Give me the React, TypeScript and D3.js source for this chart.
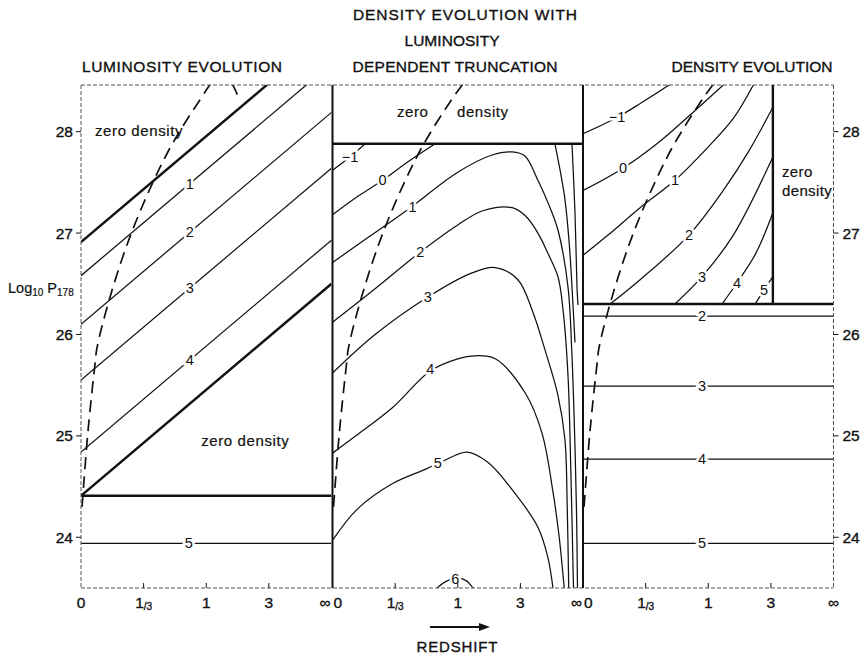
import React from "react";
import * as d3 from "d3";

// ---------- axes ----------
const redshiftTicks = [0, 1 / 3, 1, 3, Infinity];
const redshiftTickLabels = ["0", "⅓", "1", "3", "∞"];
const logPTicks = [24, 25, 26, 27, 28];
const logPDomain = [23.5, 28.46];

// x data below is compressed redshift u = z/(1+z)  (0 -> 0, 1/3 -> .25, 1 -> .5, 3 -> .75, inf -> 1)
const compress = (z: number) => (z === Infinity ? 1 : z / (1 + z));

// ---------- panel 1 : luminosity evolution ----------
const lumLevels = ["1", "2", "3", "4"];
const lumAtZ0 = [26.58, 26.1, 25.55, 24.84];
const lumAtZInf = [28.67, 28.19, 27.64, 26.93];
const lumUpperBound = [26.91, 29.0];
const lumLowerBound = [24.41, 26.5];
const lumFloor = 24.41;
const lumLevel5 = 23.94;

// ---------- panel 2 : density evolution with luminosity dependent truncation ----------
const ddtCeiling = 27.88;
const ddtM1 = [[0, 27.62], [0.07, 27.75], [0.13, 27.88]];
const ddtM1Tail = [[0.956, 27.88], [0.968, 27.2], [0.976, 26.47], [0.98, 26.29]];
const ddt0 = [[0, 27.18], [0.1, 27.36], [0.2, 27.52], [0.3, 27.7], [0.41, 27.88]];
const ddt0Tail = [[0.888, 27.88], [0.91, 27.6], [0.928, 27.33], [0.945, 26.9], [0.956, 26.47], [0.968, 25.92]];
const ddt1 = [[0, 26.71], [0.15, 26.97], [0.3, 27.23], [0.5, 27.6], [0.637, 27.77], [0.717, 27.8], [0.768, 27.76], [0.82, 27.52], [0.86, 27.3], [0.9, 27.03], [0.94, 26.47], [0.955, 25.85], [0.966, 25.06], [0.974, 24.27], [0.978, 23.5]];
const ddt2 = [[0, 26.12], [0.17, 26.45], [0.349, 26.81], [0.5, 27.08], [0.6, 27.22], [0.717, 27.25], [0.77, 27.17], [0.82, 27.0], [0.86, 26.8], [0.9, 26.57], [0.92, 26.25], [0.94, 25.6], [0.952, 24.6], [0.962, 23.5]];
const ddt3 = [[0, 25.62], [0.17, 26.0], [0.381, 26.37], [0.55, 26.6], [0.649, 26.66], [0.74, 26.54], [0.8, 26.22], [0.848, 25.85], [0.9, 25.4], [0.928, 24.96], [0.937, 24.3], [0.943, 23.5]];
const ddt4 = [[0, 24.83], [0.12, 25.05], [0.24, 25.28], [0.39, 25.64], [0.5, 25.76], [0.57, 25.79], [0.65, 25.76], [0.77, 25.42], [0.836, 25.03], [0.88, 24.45], [0.905, 24.0], [0.925, 23.5]];
const ddt5 = [[0, 23.97], [0.1, 24.28], [0.24, 24.53], [0.37, 24.67], [0.44, 24.75], [0.537, 24.84], [0.62, 24.74], [0.717, 24.47], [0.82, 24.1], [0.86, 23.8], [0.88, 23.5]];
const ddt6 = [[0.418, 23.5], [0.45, 23.56], [0.497, 23.6], [0.535, 23.57], [0.561, 23.5]];
const ddtLabels = ["−1", "0", "1", "2", "3", "4", "5", "6"];
const ddtLabelAt = [[0.07, 27.75], [0.2, 27.52], [0.32, 27.26], [0.35, 26.81], [0.38, 26.37], [0.39, 25.66], [0.42, 24.73], [0.49, 23.59]];

// ---------- panel 3 : density evolution ----------
const deCutoff = 0.758;
const deFloor = 26.3;
const deM1 = [[0, 27.98], [0.136, 28.14], [0.23, 28.28], [0.35, 28.47]];
const de0 = [[0, 27.42], [0.16, 27.64], [0.295, 27.88], [0.43, 28.17], [0.56, 28.46]];
const de1 = [[0, 26.78], [0.1, 26.98], [0.228, 27.25], [0.367, 27.52], [0.5, 27.85], [0.6, 28.13], [0.68, 28.46]];
const de2 = [[0.108, 26.3], [0.228, 26.54], [0.423, 26.98], [0.56, 27.42], [0.66, 27.8], [0.758, 28.24]];
const de3 = [[0.367, 26.3], [0.475, 26.57], [0.6, 26.98], [0.758, 27.75]];
const de4 = [[0.555, 26.3], [0.615, 26.51], [0.69, 26.8], [0.758, 27.2]];
const de5 = [[0.687, 26.3], [0.723, 26.44], [0.758, 26.57]];
const deLabels = ["−1", "0", "1", "2", "3", "4", "5"];
const deLabelAt = [[0.136, 28.14], [0.16, 27.64], [0.367, 27.52], [0.423, 26.98], [0.475, 26.57], [0.615, 26.51], [0.723, 26.44]];
const deFlatLevels = ["2", "3", "4", "5"];
const deFlatValues = [26.18, 25.49, 24.77, 23.94];

// ---------- flux limit (dashed) ----------
const fluxLimit = [[0.004, 24.3], [0.008, 24.43], [0.028, 25.05], [0.056, 25.71], [0.064, 25.87], [0.116, 26.37], [0.195, 26.96], [0.287, 27.5], [0.367, 27.89], [0.474, 28.31], [0.53, 28.5]];
const fluxLimitTurn = [[0.57, 28.54], [0.6, 28.48], [0.625, 28.36]];

const titles1 = ["LUMINOSITY EVOLUTION"];
const titles2 = ["DENSITY EVOLUTION WITH", "LUMINOSITY", "DEPENDENT TRUNCATION"];
const titles3 = ["DENSITY EVOLUTION"];

const FONT = "'Liberation Sans', Arial, Helvetica, 'DejaVu Sans', sans-serif";
const INK = "#111";

export default function App() {
  const top = 85, bottom = 588;
  const panelLefts = [81, 332.5, 583];
  const panelW = 250.5;
  const y = d3.scaleLinear().domain(logPDomain).range([bottom, top]);
  const xs = panelLefts.map((l) => d3.scaleLinear().domain([0, 1]).range([l, l + panelW]));
  const smooth = (x: d3.ScaleLinear<number, number>) =>
    d3.line<number[]>().x((d) => x(d[0])).y((d) => y(d[1])).curve(d3.curveCatmullRom.alpha(0.5));
  const straight = (x: d3.ScaleLinear<number, number>) =>
    d3.line<number[]>().x((d) => x(d[0])).y((d) => y(d[1]));

  const thin = { fill: "none", stroke: INK, strokeWidth: 1.25 };
  const thick = { fill: "none", stroke: INK, strokeWidth: 2.4 };
  const dashed = { fill: "none", stroke: INK, strokeWidth: 1.7, strokeDasharray: "12 7" };
  const heavy = { stroke: INK, strokeWidth: 0.35 };

  const Lbl = ({ x, yy, t }: { x: number; yy: number; t: string }) => (
    <text x={x} y={yy} textAnchor="middle" dominantBaseline="central" fontSize={14.5}
      stroke="white" strokeWidth={5} paintOrder="stroke" fill={INK}>{t}</text>
  );

  const [x1, x2, x3] = xs;
  const L1 = straight(x1), S2 = smooth(x2), S3 = smooth(x3), L3 = straight(x3);
  const labelU = 0.434;

  const tickText = (t: string) =>
    t === "⅓" ? (
      <>
        <tspan>1</tspan>
        <tspan fontSize={10} dy={2}>/3</tspan>
      </>
    ) : t;

  return (
    <svg width={867} height={655} style={{ display: "block", position: "absolute", left: 0, top: 0 }} fontFamily={FONT}>
      <rect x={0} y={0} width={867} height={655} fill="white" />
      <defs>
        {panelLefts.map((l, i) => (
          <clipPath id={`clip${i}`} key={i}>
            <rect x={l} y={top} width={panelW} height={bottom - top} />
          </clipPath>
        ))}
      </defs>

      {/* titles */}
      <g fontSize={15.5} fill={INK} textAnchor="middle" {...heavy}>
        <text x={182} y={72} textLength={200} lengthAdjust="spacing">{titles1[0]}</text>
        <text x={465} y={20} textLength={224} lengthAdjust="spacing">{titles2[0]}</text>
        <text x={452} y={46} textLength={95} lengthAdjust="spacing">{titles2[1]}</text>
        <text x={455} y={72} textLength={205} lengthAdjust="spacing">{titles2[2]}</text>
        <text x={752} y={72} textLength={161} lengthAdjust="spacing">{titles3[0]}</text>
      </g>

      {/* panel 1 */}
      <g clipPath="url(#clip0)">
        {lumLevels.map((lv, i) => (
          <path key={lv} d={L1([[0, lumAtZ0[i]], [1, lumAtZInf[i]]]) || ""} {...thin} />
        ))}
        <path d={L1([[0, lumUpperBound[0]], [1, lumUpperBound[1]]]) || ""} {...thick} />
        <path d={L1([[0, lumLowerBound[0]], [1, lumLowerBound[1]]]) || ""} {...thick} />
        <path d={L1([[0, lumFloor], [1, lumFloor]]) || ""} {...thick} />
        <path d={L1([[0, lumLevel5], [1, lumLevel5]]) || ""} {...thin} />
        <path d={smooth(x1)([...fluxLimit, ...fluxLimitTurn]) || ""} {...dashed} />
      </g>
      {lumLevels.map((lv, i) => (
        <Lbl key={lv} x={x1(labelU)} yy={y(lumAtZ0[i] + labelU * (lumAtZInf[i] - lumAtZ0[i]))} t={lv} />
      ))}
      <Lbl x={x1(0.43)} yy={y(lumLevel5)} t="5" />
      <g fontSize={15} fill={INK} letterSpacing={0.6} {...heavy} strokeWidth={0.2}>
        <text x={x1(0.056)} y={y(27.96)}>zero density</text>
        <text x={x1(0.48)} y={y(24.9)}>zero density</text>
      </g>

      {/* panel 2 */}
      <g clipPath="url(#clip1)">
        {[ddtM1, ddtM1Tail, ddt0, ddt0Tail, ddt1, ddt2, ddt3, ddt4, ddt5, ddt6].map((c, i) => (
          <path key={i} d={S2(c) || ""} {...thin} />
        ))}
        <path d={straight(x2)([[0, ddtCeiling], [1, ddtCeiling]]) || ""} {...thick} />
        <path d={smooth(x2)(fluxLimit) || ""} {...dashed} />
      </g>
      {ddtLabels.map((t, i) => (
        <Lbl key={i} x={x2(ddtLabelAt[i][0])} yy={y(ddtLabelAt[i][1])} t={t} />
      ))}
      <g fontSize={15} fill={INK} letterSpacing={0.6} {...heavy} strokeWidth={0.2}>
        <text x={x2(0.257)} y={y(28.14)}>zero</text>
        <text x={x2(0.497)} y={y(28.14)}>density</text>
      </g>

      {/* panel 3 */}
      <g clipPath="url(#clip2)">
        {[deM1, de0, de1, de2, de3, de4, de5].map((c, i) => (
          <path key={i} d={S3(c) || ""} {...thin} />
        ))}
        {deFlatValues.map((v, i) => (
          <path key={"f" + i} d={L3([[0, v], [1, v]]) || ""} {...thin} />
        ))}
        <path d={L3([[0, deFloor], [1, deFloor]]) || ""} {...thick} />
        <path d={L3([[deCutoff, deFloor], [deCutoff, logPDomain[1]]]) || ""} {...thick} />
        <path d={smooth(x3)(fluxLimit) || ""} {...dashed} />
      </g>
      {deLabels.map((t, i) => (
        <Lbl key={i} x={x3(deLabelAt[i][0])} yy={y(deLabelAt[i][1])} t={t} />
      ))}
      {deFlatLevels.map((t, i) => (
        <Lbl key={"fl" + i} x={x3(0.475)} yy={y(deFlatValues[i])} t={t} />
      ))}
      <g fontSize={15} fill={INK} letterSpacing={0.4} {...heavy} strokeWidth={0.2}>
        <text x={x3(0.794)} y={y(27.55)}>zero</text>
        <text x={x3(0.794)} y={y(27.37)}>density</text>
      </g>

      {/* frame */}
      <g stroke="#555" strokeWidth={1} strokeDasharray="4 2" fill="none">
        <line x1={panelLefts[0]} x2={panelLefts[2] + panelW} y1={top} y2={top} />
        <line x1={panelLefts[0]} x2={panelLefts[2] + panelW} y1={bottom} y2={bottom} />
        <line x1={panelLefts[0]} x2={panelLefts[0]} y1={top} y2={bottom} />
        <line x1={panelLefts[2] + panelW} x2={panelLefts[2] + panelW} y1={top} y2={bottom} />
      </g>
      <g stroke={INK} strokeWidth={2}>
        <line x1={panelLefts[1]} x2={panelLefts[1]} y1={top} y2={bottom} />
        <line x1={panelLefts[2]} x2={panelLefts[2]} y1={top} y2={bottom} />
      </g>

      {/* y axes */}
      {logPTicks.map((t) => (
        <g key={t}>
          <line x1={panelLefts[0] - 5} x2={panelLefts[0]} y1={y(t)} y2={y(t)} stroke={INK} strokeWidth={1} />
          <text x={panelLefts[0] - 8} y={y(t)} dy="0.36em" textAnchor="end" fontSize={15.5} fill={INK} {...heavy}>{t}</text>
          <line x1={panelLefts[2] + panelW} x2={panelLefts[2] + panelW + 5} y1={y(t)} y2={y(t)} stroke={INK} strokeWidth={1} />
          <text x={panelLefts[2] + panelW + 9} y={y(t)} dy="0.36em" textAnchor="start" fontSize={15.5} fill={INK} {...heavy}>{t}</text>
        </g>
      ))}
      <text x={8} y={293} fontSize={14.5} fill={INK} {...heavy} strokeWidth={0.2}>
        Log<tspan fontSize={10} dy={3}>10</tspan><tspan dy={-3}> P</tspan><tspan fontSize={10} dy={3}>178</tspan>
      </text>

      {/* x axes */}
      {xs.map((x, pi) => (
        <g key={pi}>
          {redshiftTicks.map((z, i) => {
            const u = compress(z);
            const px = x(u);
            const inner = i > 0 && i < redshiftTicks.length - 1;
            let anchor: "middle" | "end" | "start" = "middle";
            let tx = px;
            if (i === 0 && pi > 0) { anchor = "start"; tx = px + 1; }
            if (i === redshiftTicks.length - 1 && pi < 2) { anchor = "end"; tx = px - 1; }
            return (
              <g key={i}>
                {inner && <line x1={px} x2={px} y1={bottom} y2={bottom - 5} stroke={INK} strokeWidth={1} />}
                <text x={tx} y={608} textAnchor={anchor} fontSize={15.5} fill={INK} {...heavy}>{tickText(redshiftTickLabels[i])}</text>
              </g>
            );
          })}
        </g>
      ))}

      {/* redshift label */}
      <line x1={430} x2={482} y1={627} y2={627} stroke={INK} strokeWidth={2} />
      <polygon points="479,623 490,627 479,631" fill={INK} />
      <text x={457} y={652} textAnchor="middle" fontSize={15} fill={INK} textLength={81} lengthAdjust="spacing" {...heavy}>REDSHIFT</text>
    </svg>
  );
}
